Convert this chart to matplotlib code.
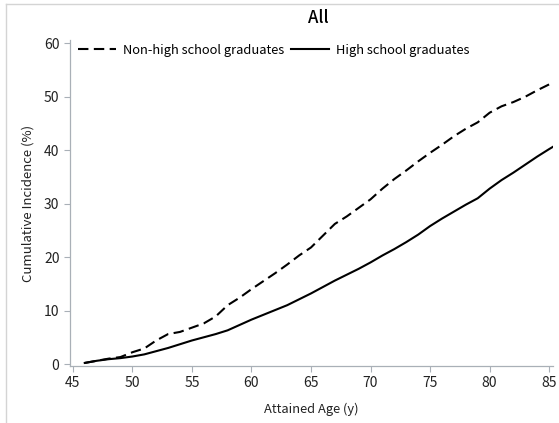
import numpy as np
import matplotlib
matplotlib.use("Agg")
import matplotlib.pyplot as plt
from matplotlib.lines import Line2D

plt.rcParams['font.family'] = ['Noto Sans CJK JP', 'DejaVu Sans']

# Cumulative incidence (%) by attained age
ages = [46, 47, 48, 49, 50, 51, 52, 53, 54, 55, 56, 57, 58, 59, 60, 61, 62, 63, 64, 65,
        66, 67, 68, 69, 70, 71, 72, 73, 74, 75, 76, 77, 78, 79, 80, 81, 82, 83, 84, 85, 85.3]
non_hs = [0.2, 0.6, 1.0, 1.3, 2.2, 2.9, 4.4, 5.6, 6.0, 6.8, 7.6, 8.9, 11.0, 12.4, 14.0,
          15.5, 17.0, 18.6, 20.3, 21.8, 24.0, 26.2, 27.6, 29.2, 30.8, 32.8, 34.6, 36.2,
          37.9, 39.5, 41.0, 42.6, 44.0, 45.2, 47.0, 48.2, 49.0, 50.0, 51.2, 52.3, 52.6]
hs = [0.2, 0.6, 0.9, 1.1, 1.4, 1.8, 2.4, 3.0, 3.7, 4.4, 5.0, 5.6, 6.3, 7.3, 8.3, 9.2,
      10.1, 11.0, 12.1, 13.2, 14.4, 15.6, 16.7, 17.8, 19.0, 20.3, 21.5, 22.8, 24.2, 25.8,
      27.2, 28.5, 29.8, 31.0, 32.8, 34.4, 35.8, 37.3, 38.8, 40.2, 40.6]

x_ticks = [45, 50, 55, 60, 65, 70, 75, 80, 85]
y_ticks = [0, 10, 20, 30, 40, 50, 60]

axis_grey = '#a9b0b7'
text_col = '#222222'

fig = plt.figure(figsize=(5.59, 4.23), dpi=100)
ax = fig.add_axes([0.125, 0.1348, 0.864, 0.7706])

ax.plot(ages, non_hs, color='black', lw=1.5, dashes=(5, 2.6), label='Non-high school graduates')
ax.plot(ages, hs, color='black', lw=1.5, label='High school graduates')

ax.set_xlim(44.75, 85.31)
ax.set_ylim(-0.37, 60.6)
ax.set_xticks(x_ticks)
ax.set_yticks(y_ticks)
ax.tick_params(colors=axis_grey, labelcolor=text_col, labelsize=10, length=4, width=0.8)

for side in ['top', 'right']:
    ax.spines[side].set_visible(False)
for side in ['left', 'bottom']:
    ax.spines[side].set_color(axis_grey)
    ax.spines[side].set_linewidth(0.9)

ax.set_xlabel('Attained Age (y)', fontsize=9.3, color=text_col, labelpad=9)
ax.set_ylabel('Cumulative Incidence (%)', fontsize=9.5, color=text_col, labelpad=7)
fig.text(0.569, 0.957, 'All', ha='center', va='center', fontsize=12,
         fontweight='medium', color='black')

ax.legend(loc='upper left', bbox_to_anchor=(0.0, 1.012), ncol=2, frameon=False,
          fontsize=9.3, handlelength=3.0, handletextpad=0.5, columnspacing=0.5,
          borderaxespad=0.2)

# thin frame lines along the top and left edges
fig.add_artist(Line2D([6 / 559, 1], [1 - 4 / 423, 1 - 4 / 423], color='#d4d4d4', lw=1))
fig.add_artist(Line2D([6 / 559, 6 / 559], [0, 1 - 4 / 423], color='#d4d4d4', lw=1))

fig.savefig('out.png', dpi=100)
